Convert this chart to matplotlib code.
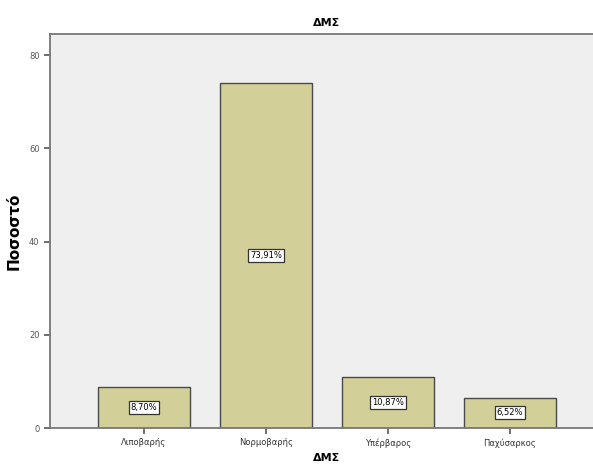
import matplotlib.pyplot as plt

# ΔΜΣ ποσοστά ανά κατηγορία
kathgories = ["Λιποβαρής", "Νορμοβαρής", "Υπέρβαρος", "Παχύσαρκος"]
pososta = [8.70, 73.91, 10.87, 6.52]
etiketes = ["8,70%", "73,91%", "10,87%", "6,52%"]

fig = plt.figure(figsize=(5.93, 4.69), dpi=100)
ax = fig.add_axes([0.0843, 0.0874, 0.934, 0.840])
ax.set_facecolor("#efefef")

x = range(len(kathgories))
ax.bar(x, pososta, width=0.75, color="#d3cf98", edgecolor="#4a4a4a", linewidth=1.0)

for i, v in enumerate(pososta):
    ax.text(i, v / 2, etiketes[i], ha="center", va="center", fontsize=6,
            bbox=dict(boxstyle="square,pad=0.25", facecolor="white", edgecolor="#333333", linewidth=0.9))

ax.set_xlim(-0.77, 3.77)
ax.set_ylim(0, 84.5)
ax.set_xticks(list(x))
ax.set_xticklabels(kathgories, fontsize=6, color="#333333")
ax.set_yticks([0, 20, 40, 60, 80])
ax.tick_params(axis="y", labelsize=6, colors="#555555", length=4, width=1.2)
ax.tick_params(axis="x", length=4, width=1.2, colors="#555555", labelcolor="#333333")

for s in ax.spines.values():
    s.set_color("#777777")
    s.set_linewidth(1.3)

ax.set_title("ΔΜΣ", fontsize=8, fontweight="bold", pad=6)
ax.set_xlabel("ΔΜΣ", fontsize=8, fontweight="bold", labelpad=4)
ax.set_ylabel("Ποσοστό", fontsize=11, fontweight="bold", labelpad=5)

plt.savefig("out.png", dpi=100, facecolor="white")
